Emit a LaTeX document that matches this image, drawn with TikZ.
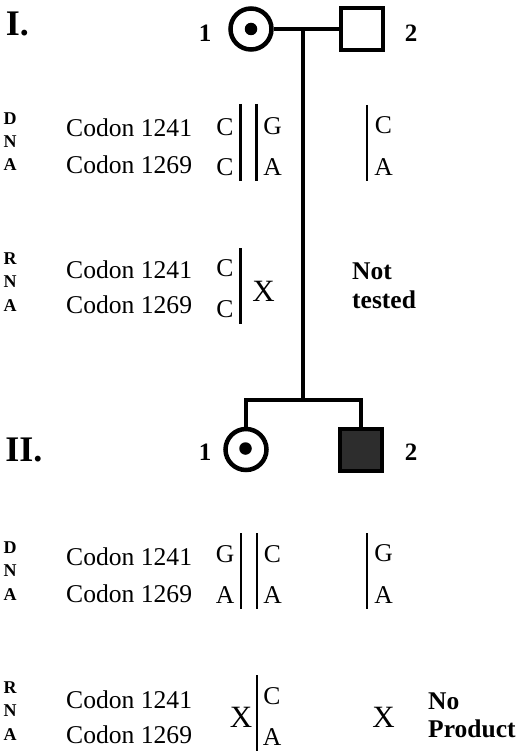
\documentclass[tikz,border=0pt]{standalone}
\usepackage{fontspec}
\setmainfont{Liberation Serif}
\usetikzlibrary{positioning}
\definecolor{Affected}{RGB}{45,45,45}
\tikzset{
  female/.style={circle, draw, line width=4.5pt, minimum size=41pt, inner sep=0pt},
  male/.style={rectangle, draw, line width=4pt, minimum size=42pt, inner sep=0pt},
  carrierdot/.style={circle, fill, minimum size=12.5pt, inner sep=0pt},
  ped/.style={line width=4pt, line join=miter},
  allelebar/.style={line width=2.5pt},
  gennum/.style={font=\bfseries\fontsize{36}{36}\selectfont, inner sep=0pt},
  indnum/.style={font=\bfseries\fontsize{25}{28}\selectfont, inner sep=0pt},
  acid/.style={font=\bfseries\fontsize{18}{23.3}\selectfont, align=center, inner sep=0pt},
  codon/.style={font=\fontsize{25.6}{28}\selectfont, anchor=west, inner sep=0pt},
  base/.style={font=\fontsize{25.6}{28}\selectfont, inner sep=0pt},
  nores/.style={font=\fontsize{31}{31}\selectfont, inner sep=0pt},
  note/.style={font=\bfseries\fontsize{25.5}{28.5}\selectfont, align=left, anchor=west, inner sep=0pt}
}
\begin{document}
\begin{tikzpicture}[x=1pt, y=-1pt]
  \useasboundingbox (0,0) rectangle (520,754);
  % generation I
  \node[gennum] (genI) at (17.5,24) {I.};
  \node[female] (I1) at (251,29) {};
  \node[carrierdot] (I1dot) at (251,29) {};
  \node[male] (I2) at (361.5,29) {};
  \node[indnum] (I1num) at (205,33) {1};
  \node[indnum] (I2num) at (411,33) {2};
  \coordinate (mate) at (302.5,29);
  \coordinate (sib) at (302.5,400);
  \draw[ped] (I1) -- (I2);
  \draw[ped] (mate) -- (sib);
  % generation II
  \node[gennum] (genII) at (24,450) {II.};
  \node[female] (II1) at (246,449.5) {};
  \node[carrierdot] (II1dot) at (245.5,448.5) {};
  \node[male, fill=Affected] (II2) at (360.5,450) {};
  \node[indnum] (II1num) at (205,452) {1};
  \node[indnum] (II2num) at (411,452) {2};
  \draw[ped] (II1.north) |- (sib) -| (II2.north);

  % I: DNA
  \node[acid] (dnaI) at (10,141.5) {D\\N\\A};
  \node[codon] (dnaIa) at (66,128) {Codon 1241};
  \node[codon] (dnaIb) at (66,165) {Codon 1269};
  \node[base] (dnaI1a) at (225,127) {C};
  \node[base] (dnaI1b) at (225,167) {C};
  \node[base] (dnaI1c) at (272.5,126) {G};
  \node[base] (dnaI1d) at (272.5,167) {A};
  \node[base] (dnaI2a) at (383.5,125) {C};
  \node[base] (dnaI2b) at (383.5,167) {A};
  \draw[allelebar] (240.7,104) -- (240.7,181);
  \draw[allelebar] (256.7,104) -- (256.7,181);
  \draw[allelebar] (367,105) -- (367,181);

  % I: RNA
  \node[acid] (rnaI) at (10,282) {R\\N\\A};
  \node[codon] (rnaIa) at (66,270) {Codon 1241};
  \node[codon] (rnaIb) at (66,305) {Codon 1269};
  \node[base] (rnaI1a) at (225,268) {C};
  \node[base] (rnaI1b) at (225,309) {C};
  \node[nores] (rnaI1x) at (263.5,291) {X};
  \draw[allelebar] (240.7,248) -- (240.7,324);
  \node[note] (rnaI2) at (352,286) {Not\\tested};

  % II: DNA
  \node[acid] (dnaII) at (10,571) {D\\N\\A};
  \node[codon] (dnaIIa) at (66,557) {Codon 1241};
  \node[codon] (dnaIIb) at (66,594) {Codon 1269};
  \node[base] (dnaII1a) at (225,554) {G};
  \node[base] (dnaII1b) at (225,595) {A};
  \node[base] (dnaII1c) at (272.5,554) {C};
  \node[base] (dnaII1d) at (272.5,595) {A};
  \node[base] (dnaII2a) at (383.5,553) {G};
  \node[base] (dnaII2b) at (383.5,595) {A};
  \draw[allelebar] (241,533) -- (241,609);
  \draw[allelebar] (257,533) -- (257,609);
  \draw[allelebar] (367,533) -- (367,609);

  % II: RNA
  \node[acid] (rnaII) at (10,711) {R\\N\\A};
  \node[codon] (rnaIIa) at (66,700) {Codon 1241};
  \node[codon] (rnaIIb) at (66,735) {Codon 1269};
  \node[nores] (rnaII1x) at (241,717) {X};
  \node[base] (rnaII1a) at (272,696) {C};
  \node[base] (rnaII1b) at (272,737) {A};
  \draw[allelebar] (257,675) -- (257,751);
  \node[nores] (rnaII2x) at (383.5,717) {X};
  \node[note] (rnaII2) at (428,715.5) {No\\Product};
\end{tikzpicture}
\end{document}
